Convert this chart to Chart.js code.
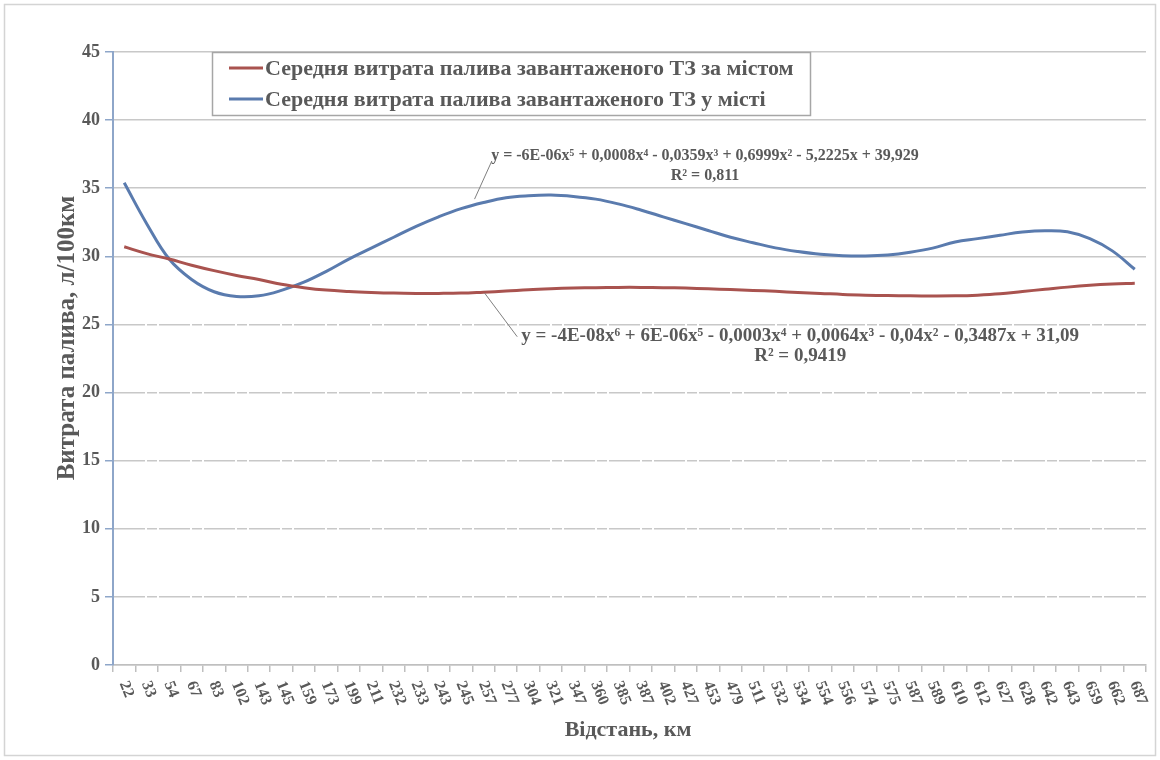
<!DOCTYPE html>
<html>
<head>
<meta charset="utf-8">
<script src="https://cdn.jsdelivr.net/npm/chart.js@4/dist/chart.umd.min.js"></script>
<style>
  html, body { margin: 0; padding: 0; background: #fff; }
  #wrap { width: 1160px; height: 760px; }
</style>
</head>
<body>
<div id="wrap"><canvas id="c" width="1160" height="760"></canvas></div>
<script>
// Distance categories, km
const distances = ['22','33','54','67','83','102','143','145','159','173','199','211','232','233','243',
  '245','257','277','304','321','347','360','385','387','402','427','453','479','511','532','534',
  '554','556','574','575','587','589','610','612','627','628','642','643','659','662','687'];

// Average fuel consumption of a loaded vehicle outside the city, l/100km
const outsideCity = [30.7,30.2,29.8,29.35,28.95,28.6,28.3,27.95,27.7,27.52,27.42,27.35,27.3,27.28,27.28,
  27.3,27.37,27.45,27.55,27.62,27.67,27.7,27.72,27.72,27.7,27.67,27.62,27.56,27.5,27.43,27.35,
  27.28,27.2,27.15,27.12,27.1,27.09,27.1,27.15,27.25,27.42,27.58,27.74,27.87,27.96,28.02];

// Average fuel consumption of a loaded vehicle in the city, l/100km
const inCity = [35.4,32.4,29.8,28.3,27.4,27.05,27.1,27.5,28.1,28.9,29.8,30.6,31.4,32.2,32.9,
  33.5,33.95,34.3,34.45,34.5,34.4,34.2,33.85,33.4,32.9,32.4,31.9,31.4,31.0,30.62,30.35,
  30.15,30.05,30.03,30.1,30.3,30.6,31.05,31.3,31.55,31.78,31.88,31.8,31.3,30.4,29.05];

// Value axis
const yMin = 0, yMax = 45, yStep = 5;

const seriesNames = [
  'Середня витрата палива завантаженого ТЗ за містом',
  'Середня витрата палива завантаженого ТЗ у місті'
];
const trendLabels = [
  ['y = -4E-08x⁶ + 6E-06x⁵ - 0,0003x⁴ + 0,0064x³ - 0,04x² - 0,3487x + 31,09', 'R² = 0,9419'],
  ['y = -6E-06x⁵ + 0,0008x⁴ - 0,0359x³ + 0,6999x² - 5,2225x + 39,929', 'R² = 0,811']
];

const TEXT = '#595959';
const SERIF = '"Liberation Serif", "Times New Roman", serif';
const RED = '#A9534F';
const BLUE = '#5A7BAE';

const decor = {
  id: 'decor',
  beforeDraw(chart) {
    const { ctx } = chart;
    ctx.save();
    ctx.fillStyle = '#fff';
    ctx.fillRect(0, 0, chart.width, chart.height);
    ctx.strokeStyle = '#d4d4d4';
    ctx.lineWidth = 1.5;
    ctx.strokeRect(4.5, 4.5, chart.width - 9, chart.height - 9);
    ctx.restore();
  },
  afterDraw(chart) {
    const { ctx, scales: { x, y } } = chart;
    ctx.save();
    ctx.fillStyle = TEXT;

    // category labels, turned clockwise
    ctx.font = 'bold 16px ' + SERIF;
    ctx.textAlign = 'left';
    ctx.textBaseline = 'middle';
    distances.forEach((lab, i) => {
      const px = x.getPixelForTick(i);
      ctx.save();
      ctx.translate(px - 1, 682);
      ctx.rotate(68 * Math.PI / 180);
      ctx.fillText(lab, 0, 0);
      ctx.restore();
    });

    // axis titles
    ctx.font = 'bold 22px ' + SERIF;
    ctx.textAlign = 'center';
    ctx.textBaseline = 'middle';
    ctx.fillText('Відстань, км', 628, 730);
    ctx.save();
    ctx.translate(68, 338);
    ctx.rotate(-Math.PI / 2);
    ctx.font = 'bold 25px ' + SERIF;
    ctx.fillText('Витрата палива, л/100км', 0, 0);
    ctx.restore();

    // trendline equations with leader lines (category index, value)
    ctx.strokeStyle = '#7f7f7f';
    ctx.lineWidth = 1;
    const leaders = [
      { from: [16.05, 27.3], to: [17.5, 24.1] },
      { from: [15.6, 34.2], to: [16.37, 37.0] }
    ];
    leaders.forEach(l => {
      ctx.beginPath();
      ctx.moveTo(x.getPixelForValue(l.from[0]), y.getPixelForValue(l.from[1]));
      ctx.lineTo(x.getPixelForValue(l.to[0]), y.getPixelForValue(l.to[1]));
      ctx.stroke();
    });
    const eqAnchors = [ [30.1, 24.15], [25.86, 37.4] ];
    const eqSizes = [19, 16];
    trendLabels.forEach((lines, k) => {
      ctx.font = 'bold ' + eqSizes[k] + 'px ' + SERIF;
      const cx = x.getPixelForValue(eqAnchors[k][0]);
      const cy = y.getPixelForValue(eqAnchors[k][1]);
      lines.forEach((s, j) => ctx.fillText(s, cx, cy + j * 20));
    });

    // legend box
    const lx = 212, ly = 52, lw = 598, lh = 63;
    ctx.fillStyle = '#fff';
    ctx.fillRect(lx, ly, lw, lh);
    ctx.strokeStyle = '#a6a6a6';
    ctx.lineWidth = 1.5;
    ctx.strokeRect(lx + 0.5, ly + 0.5, lw, lh);
    ctx.font = 'bold 22px ' + SERIF;
    ctx.textAlign = 'left';
    chart.data.datasets.forEach((ds, i) => {
      const yy = 68 + i * 31;
      ctx.strokeStyle = ds.borderColor;
      ctx.lineWidth = 3;
      ctx.beginPath();
      ctx.moveTo(229, yy);
      ctx.lineTo(263, yy);
      ctx.stroke();
      ctx.fillStyle = TEXT;
      ctx.fillText(ds.label, 265, yy + 1);
    });
    ctx.restore();
  }
};

new Chart(document.getElementById('c'), {
  type: 'line',
  data: {
    labels: distances,
    datasets: [
      { label: seriesNames[0], data: outsideCity, borderColor: RED, borderWidth: 3, pointRadius: 0, tension: 0.4, fill: false },
      { label: seriesNames[1], data: inCity, borderColor: BLUE, borderWidth: 3, pointRadius: 0, tension: 0.4, fill: false }
    ]
  },
  options: {
    responsive: false,
    animation: false,
    devicePixelRatio: 1,
    layout: { padding: { top: 52, right: 14, left: 0, bottom: 0 } },
    plugins: { legend: { display: false }, tooltip: { enabled: false } },
    scales: {
      x: {
        type: 'category',
        offset: true,
        afterFit(s) { s.height = 95; },
        ticks: { display: false, autoSkip: false },
        grid: { offset: true, drawOnChartArea: false, drawTicks: true, tickLength: 7, tickColor: '#bfbfbf', lineWidth: 1.5 },
        border: { color: '#bfbfbf', width: 1.5 }
      },
      y: {
        min: yMin,
        max: yMax,
        afterFit(s) { s.width = 113; },
        ticks: { stepSize: yStep, padding: 5, color: TEXT, font: { family: SERIF, size: 18, weight: 'bold' } },
        grid: {
          color: '#c8c8c8',
          lineWidth: 1.5,
          tickLength: 8,
          tickColor: '#8ea6c9'
        },
        border: {
          color: '#8ea6c9',
          width: 2,
          dash: ctx => (ctx.tick && ctx.tick.value < 30 && ctx.tick.value > 0) ? [31, 2, 10, 2] : []
        }
      }
    }
  },
  plugins: [decor]
});
</script>
</body>
</html>
